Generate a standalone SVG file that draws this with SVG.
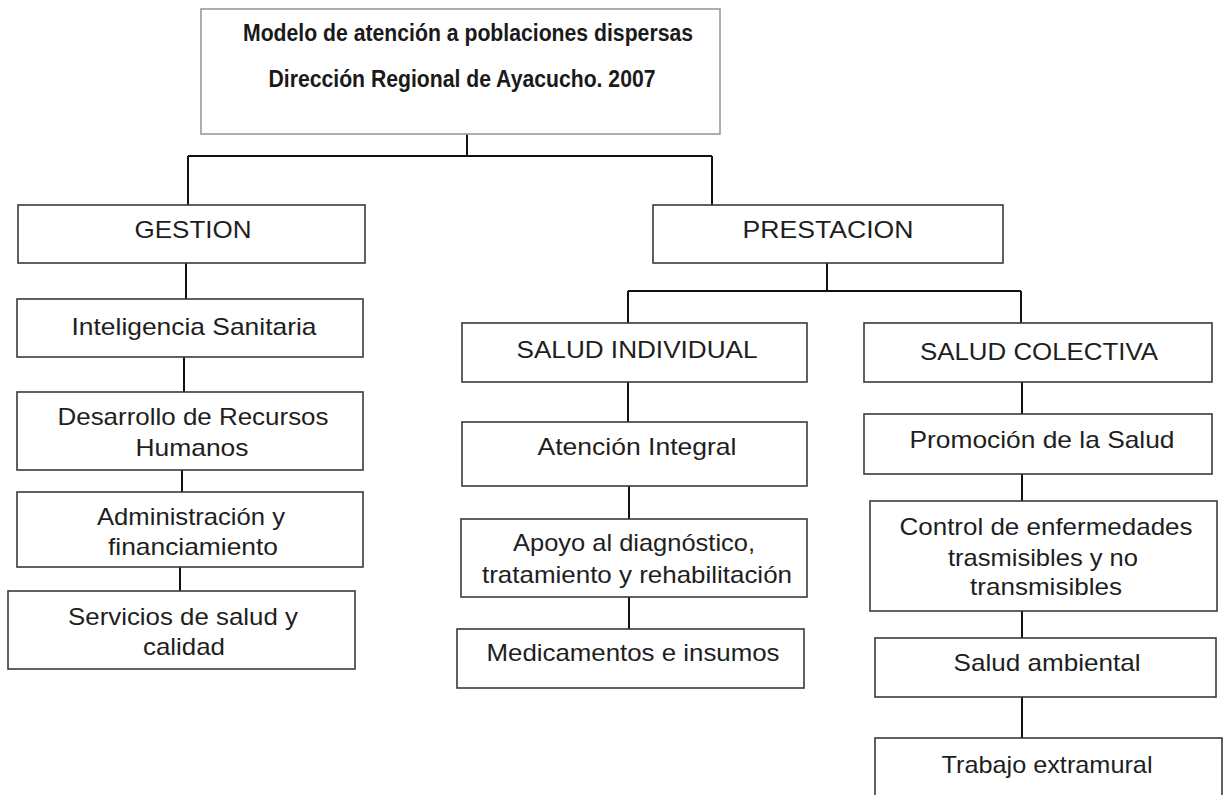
<svg xmlns="http://www.w3.org/2000/svg" width="1227" height="795" viewBox="0 0 1227 795">
<style>
.box{fill:#ffffff;stroke:#3a3a3a;stroke-width:1.6}
.tbox{fill:#ffffff;stroke:#9a9a9a;stroke-width:1.6}
.t{font-family:"Liberation Sans",Arial,sans-serif;font-size:24px;fill:#1e1e1e;text-anchor:middle}
.tt{font-family:"Liberation Sans",Arial,sans-serif;font-size:23px;font-weight:bold;fill:#1a1a1a;text-anchor:middle}
.c{fill:none;stroke:#111;stroke-width:2}
</style>
<rect width="1227" height="795" fill="#ffffff"/>
<g id="connectors">
<path class="c" d="M467,134 V156 M188,156 H712 M188,156 V205 M712,156 V205"/>
<path class="c" d="M186,263 V299 M184,357 V392 M182,470 V492 M180,567 V591"/>
<path class="c" d="M827,263 V291 M628,291 H1021 M628,291 V323 M1021,291 V323"/>
<path class="c" d="M628,382 V422 M629,486 V519 M629,597 V629"/>
<path class="c" d="M1022,382 V414 M1022,474 V501 M1022,611 V638 M1022,697 V738"/>
</g>
<g id="title">
<rect class="tbox" x="201" y="9" width="519" height="125"/>
<text class="tt" x="468" y="41" textLength="450" lengthAdjust="spacingAndGlyphs">Modelo de atención a poblaciones dispersas</text>
<text class="tt" x="462" y="87" textLength="387" lengthAdjust="spacingAndGlyphs">Dirección Regional de Ayacucho. 2007</text>
</g>
<g id="gestion">
<rect class="box" x="18" y="205" width="347" height="58"/>
<text class="t" x="193" y="238" textLength="117" lengthAdjust="spacingAndGlyphs">GESTION</text>
</g>
<g id="inteligencia">
<rect class="box" x="17" y="299" width="346" height="58"/>
<text class="t" x="194" y="335" textLength="245" lengthAdjust="spacingAndGlyphs">Inteligencia Sanitaria</text>
</g>
<g id="desarrollo">
<rect class="box" x="17" y="392" width="346" height="78"/>
<text class="t" x="193" y="425" textLength="271" lengthAdjust="spacingAndGlyphs">Desarrollo de Recursos</text>
<text class="t" x="192" y="456" textLength="113" lengthAdjust="spacingAndGlyphs">Humanos</text>
</g>
<g id="administracion">
<rect class="box" x="17" y="492" width="346" height="75"/>
<text class="t" x="191" y="525" textLength="188" lengthAdjust="spacingAndGlyphs">Administración y</text>
<text class="t" x="193" y="555" textLength="170" lengthAdjust="spacingAndGlyphs">financiamiento</text>
</g>
<g id="servicios">
<rect class="box" x="8" y="591" width="347" height="78"/>
<text class="t" x="183" y="625" textLength="230" lengthAdjust="spacingAndGlyphs">Servicios de salud y</text>
<text class="t" x="184" y="655" textLength="82" lengthAdjust="spacingAndGlyphs">calidad</text>
</g>
<g id="prestacion">
<rect class="box" x="653" y="205" width="350" height="58"/>
<text class="t" x="828" y="238" textLength="171" lengthAdjust="spacingAndGlyphs">PRESTACION</text>
</g>
<g id="salud-individual">
<rect class="box" x="462" y="323" width="345" height="59"/>
<text class="t" x="637" y="358" textLength="241" lengthAdjust="spacingAndGlyphs">SALUD INDIVIDUAL</text>
</g>
<g id="atencion-integral">
<rect class="box" x="462" y="422" width="345" height="64"/>
<text class="t" x="637" y="455" textLength="199" lengthAdjust="spacingAndGlyphs">Atención Integral</text>
</g>
<g id="apoyo">
<rect class="box" x="461" y="519" width="346" height="78"/>
<text class="t" x="634" y="551" textLength="242" lengthAdjust="spacingAndGlyphs">Apoyo al diagnóstico,</text>
<text class="t" x="637" y="583" textLength="310" lengthAdjust="spacingAndGlyphs">tratamiento y rehabilitación</text>
</g>
<g id="medicamentos">
<rect class="box" x="457" y="629" width="347" height="59"/>
<text class="t" x="633" y="661" textLength="293" lengthAdjust="spacingAndGlyphs">Medicamentos e insumos</text>
</g>
<g id="salud-colectiva">
<rect class="box" x="864" y="323" width="348" height="59"/>
<text class="t" x="1039" y="360" textLength="238" lengthAdjust="spacingAndGlyphs">SALUD COLECTIVA</text>
</g>
<g id="promocion">
<rect class="box" x="864" y="414" width="348" height="60"/>
<text class="t" x="1042" y="448" textLength="265" lengthAdjust="spacingAndGlyphs">Promoción de la Salud</text>
</g>
<g id="control">
<rect class="box" x="870" y="501" width="347" height="110"/>
<text class="t" x="1046" y="535" textLength="293" lengthAdjust="spacingAndGlyphs">Control de enfermedades</text>
<text class="t" x="1043" y="566" textLength="190" lengthAdjust="spacingAndGlyphs">trasmisibles y no</text>
<text class="t" x="1046" y="595" textLength="152" lengthAdjust="spacingAndGlyphs">transmisibles</text>
</g>
<g id="salud-ambiental">
<rect class="box" x="875" y="638" width="341" height="59"/>
<text class="t" x="1047" y="671" textLength="187" lengthAdjust="spacingAndGlyphs">Salud ambiental</text>
</g>
<g id="trabajo-extramural">
<rect class="box" x="875" y="738" width="347" height="62"/>
<text class="t" x="1047" y="773" textLength="211" lengthAdjust="spacingAndGlyphs">Trabajo extramural</text>
</g>
</svg>
